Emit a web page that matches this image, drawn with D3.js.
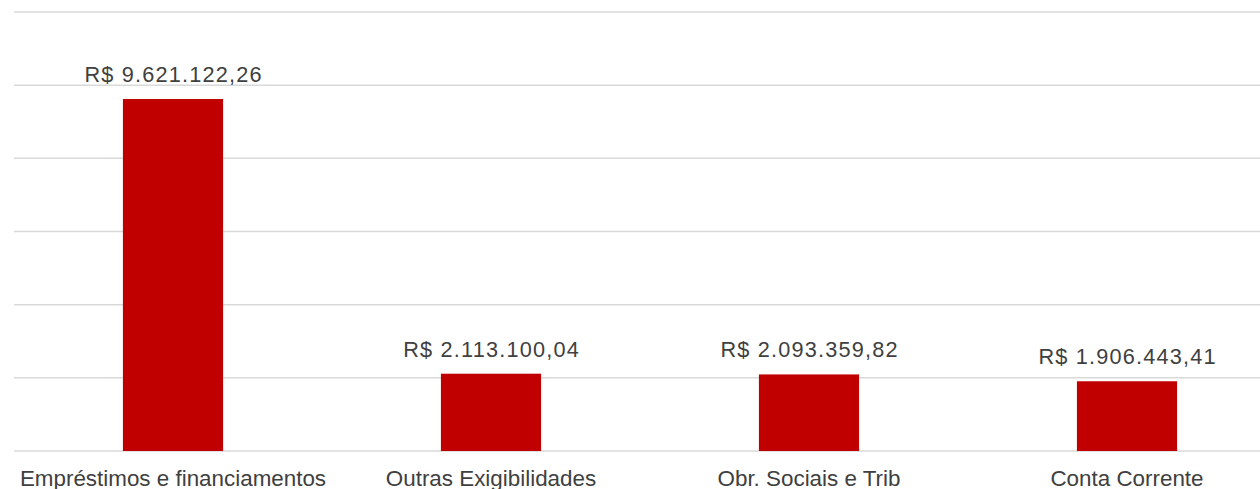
<!DOCTYPE html>
<html>
<head>
<meta charset="utf-8">
<script src="https://cdn.jsdelivr.net/npm/d3@7"></script>
<style>
  body { margin: 0; background: #fff; }
  svg { display: block; }
</style>
</head>
<body>
<svg id="chart" width="1260" height="489"></svg>
<script>
// chart values
const categories = ["Empréstimos e financiamentos", "Outras Exigibilidades", "Obr. Sociais e Trib", "Conta Corrente"];
const values = [9621122.26, 2113100.04, 2093359.82, 1906443.41];
const labels = ["R$ 9.621.122,26", "R$ 2.113.100,04", "R$ 2.093.359,82", "R$ 1.906.443,41"];
const yTicks = [0, 2000000, 4000000, 6000000, 8000000, 10000000, 12000000];

const svg = d3.select("#chart");
const FONT = "'Liberation Sans', Arial, sans-serif";
const RED = "#c00000";
const GRID = "#d9d9d9";
const TEXT = "#404040";

// plot runs past the right edge, the original is cropped
const x = d3.scaleBand()
    .domain(categories)
    .range([14, 1286])
    .paddingInner(0.685)
    .paddingOuter(0.3425);

const y = d3.scaleLinear()
    .domain([0, 12000000])
    .range([451, 12]);

// horizontal grid
svg.append("g")
    .selectAll("line")
    .data(yTicks)
    .join("line")
    .attr("x1", 14)
    .attr("x2", 1260)
    .attr("y1", d => y(d))
    .attr("y2", d => y(d))
    .attr("stroke", GRID)
    .attr("stroke-width", 1.5);

// bars
svg.append("g")
    .selectAll("rect")
    .data(values)
    .join("rect")
    .attr("x", (d, i) => x(categories[i]))
    .attr("y", d => y(d))
    .attr("width", x.bandwidth())
    .attr("height", d => y(0) - y(d))
    .attr("fill", RED);

// value labels, a bit spaced out like the original
svg.append("g")
    .selectAll("text")
    .data(values)
    .join("text")
    .attr("x", (d, i) => x(categories[i]) + x.bandwidth() / 2 + 0.6)
    .attr("y", d => y(d) - 17)
    .attr("text-anchor", "middle")
    .attr("font-family", FONT)
    .attr("font-size", 21.7)
    .attr("letter-spacing", 1.2)
    .attr("fill", TEXT)
    .text((d, i) => labels[i]);

// category labels (cut at the bottom edge, as in the original)
svg.append("g")
    .selectAll("text")
    .data(categories)
    .join("text")
    .attr("x", d => x(d) + x.bandwidth() / 2)
    .attr("y", 486)
    .attr("text-anchor", "middle")
    .attr("font-family", FONT)
    .attr("font-size", 22.4)
    .attr("fill", TEXT)
    .text(d => d);
</script>
</body>
</html>
